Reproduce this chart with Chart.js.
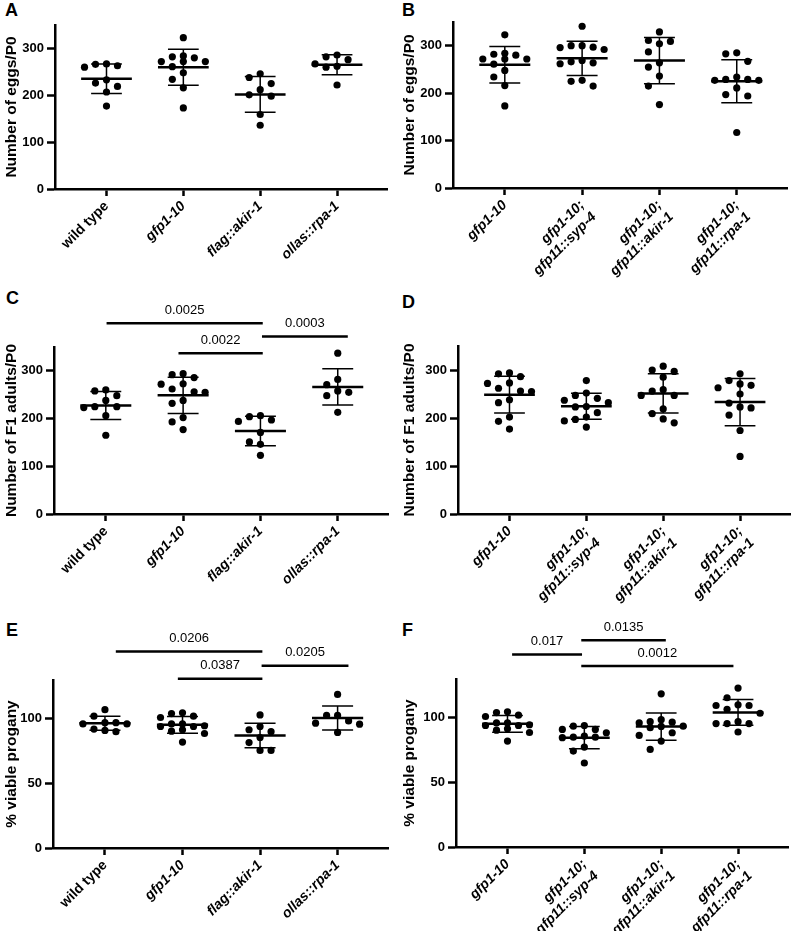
<!DOCTYPE html>
<html>
<head>
<meta charset="utf-8">
<script src="https://cdn.jsdelivr.net/npm/chart.js@4.4.0/dist/chart.umd.min.js"></script>
<style>
  body { margin: 0; background: #fff; width: 796px; height: 931px; position: relative; overflow: hidden; }
  canvas { position: absolute; }
  .tag { position: absolute; font: bold 18px "Liberation Sans", Arial, sans-serif; line-height: 18px; color: #000; }
</style>
</head>
<body>
<div class="tag" style="left:5px;top:1px">A</div>
<div class="tag" style="left:402px;top:1px">B</div>
<div class="tag" style="left:6px;top:289px">C</div>
<div class="tag" style="left:402px;top:293px">D</div>
<div class="tag" style="left:6px;top:621px">E</div>
<div class="tag" style="left:402px;top:621px">F</div>
<script>
const FONT = '"Liberation Sans", Arial, sans-serif';

// x categories
const strainsLeft = ['wild type', 'gfp1-10', 'flag::akir-1', 'ollas::rpa-1'];
const strainsRight = ['gfp1-10', ['gfp1-10;', 'gfp11::syp-4'], ['gfp1-10;', 'gfp11::akir-1'], ['gfp1-10;', 'gfp11::rpa-1']];

// number of eggs / P0
const eggsWT = [267, 266, 263, 260, 233, 226, 219, 207, 177];
const eggsGfp = [323, 272, 282, 284, 272, 272, 280, 261, 248, 234, 216, 173];
const eggsFlagAkir = [246, 238, 225, 212, 198, 201, 159, 136];
const eggsOllasRpa = [282, 286, 276, 262, 267, 260, 222];
const eggsSyp4 = [341, 300, 296, 297, 292, 300, 266, 262, 269, 264, 215, 227, 225];
const eggsGfpAkir = [329, 311, 309, 304, 287, 264, 255, 236, 215, 176];
const eggsGfpRpa = [283, 285, 267, 229, 227, 227, 229, 234, 211, 194, 197, 117];

// number of F1 adults / P0
const adultsWT = [248, 258, 260, 238, 223, 225, 225, 206, 165];
const adultsGfp = [294, 292, 286, 272, 273, 262, 255, 256, 232, 238, 193, 202, 177];
const adultsFlagAkir = [206, 204, 194, 197, 171, 146, 151, 123];
const adultsOllasRpa = [337, 282, 271, 258, 248, 255, 213];
const adultsSyp4 = [278, 252, 247, 232, 241, 237, 224, 223, 211, 202, 197, 194, 181];
const adultsGfpAkir = [308, 300, 297, 285, 247, 256, 259, 247, 219, 209, 190, 198];
const adultsGfpRpa = [292, 278, 268, 271, 263, 250, 231, 221, 223, 206, 174, 120];

// % viable progeny
const viableWT = [107, 102, 97, 96, 96, 97, 91, 92, 90];
const viableGfp = [104, 104.6, 101, 102, 94, 94.6, 96, 96, 94, 91.5, 90.4, 88.6, 82];
const viableFlagAkir = [103, 91.5, 94, 90, 85.5, 81.6, 75.5, 75.5];
const viableOllasRpa = [118.8, 102.6, 102.6, 98.3, 95.8, 96.6, 89.4];
const viableSyp4 = [91, 91, 94, 93.5, 88.4, 85, 85, 85.8, 84.6, 77.3, 74.2, 65];
const viableGfpAkir = [118.5, 97, 93.5, 93.3, 98.5, 96, 96.6, 92.3, 88.4, 86.3, 82, 75.5];
const viableGfpRpa = [123, 115.5, 109.5, 106.5, 109.5, 110, 103.5, 95.5, 97, 95.5, 95.5, 89];

// p-value comparisons: span (category units), label, bar height (y units)
const compCSpans = [[0.01, 2.03], [0.94, 2.03], [2.02, 3.13]];
const compCLabels = ['0.0025', '0.0022', '0.0003'];
const compCLevels = [400, 337, 372];
const compESpans = [[0.14, 2.03], [0.94, 2.03], [2.02, 3.14]];
const compELabels = ['0.0206', '0.0387', '0.0205'];
const compELevels = [152, 131, 141];
const compFSpans = [[0.06, 0.97], [0.96, 2.06], [0.96, 2.94]];
const compFLabels = ['0.017', '0.0135', '0.0012'];
const compFLevels = [149, 160, 140];

const xMin = -0.67, xMax = 3.65;

function meanSd(v) {
  const m = v.reduce((a, b) => a + b, 0) / v.length;
  const sd = Math.sqrt(v.reduce((a, b) => a + (b - m) ** 2, 0) / (v.length - 1));
  return [m, sd];
}

// beeswarm limited to 5 slots; when all are taken pick the least crowded one
function swarm(values, center, pxX, pxY) {
  const step = 11, minDist = 10;
  const slots = [0, -1, 1, -2, 2].map(k => k * step);
  const order = values.map((v, i) => i).sort((a, b) => values[b] - values[a]);
  const placed = [];
  const out = [];
  for (const i of order) {
    const yp = values[i] * pxY;
    let best = 0, bestGap = -1;
    for (const cand of slots) {
      const gap = placed.length ? Math.min(...placed.map(p => Math.hypot(p.xp - cand, p.yp - yp))) : Infinity;
      if (gap >= minDist) { best = cand; bestGap = gap; break; }
      if (gap > bestGap) { best = cand; bestGap = gap; }
    }
    placed.push({ xp: best, yp });
    out.push({ x: center + best / pxX, y: values[i] });
  }
  return out;
}

const sigPlugin = {
  id: 'sig',
  afterDraw(chart, args, opts) {
    if (!opts.spans) return;
    const { ctx } = chart;
    const x = chart.scales.x, y = chart.scales.y;
    ctx.save();
    ctx.strokeStyle = '#000';
    ctx.fillStyle = '#000';
    ctx.lineWidth = 2.5;
    ctx.font = '13px ' + FONT;
    ctx.textAlign = 'center';
    ctx.textBaseline = 'middle';
    opts.spans.forEach((s, i) => {
      const x1 = x.getPixelForValue(s[0]), x2 = x.getPixelForValue(s[1]);
      const yy = y.getPixelForValue(opts.levels[i]);
      ctx.beginPath();
      ctx.moveTo(x1, yy);
      ctx.lineTo(x2, yy);
      ctx.stroke();
      ctx.fillText(opts.labels[i], (x1 + x2) / 2, yy - 13);
    });
    ctx.restore();
  }
};

function panel(box, area, labels, groups, yTitle, yMax, yStep, comps) {
  const cv = document.createElement('canvas');
  cv.width = box.w; cv.height = box.h;
  cv.style.left = box.l + 'px';
  cv.style.top = box.t + 'px';
  document.body.appendChild(cv);

  const pxX = (area.r - area.l) / (xMax - xMin);
  const pxY = (area.b - area.t) / yMax;
  const pts = [], means = [], sds = [];
  groups.forEach((g, i) => {
    pts.push(...swarm(g, i, pxX, pxY));
    const [m, sd] = meanSd(g);
    means.push({ x: i - 0.33, y: m }, { x: i + 0.33, y: m }, { x: i, y: null });
    sds.push({ x: i, y: m - sd }, { x: i, y: m + sd }, { x: i, y: null },
      { x: i - 0.2, y: m + sd }, { x: i + 0.2, y: m + sd }, { x: i, y: null },
      { x: i - 0.2, y: m - sd }, { x: i + 0.2, y: m - sd }, { x: i, y: null });
  });

  new Chart(cv, {
    type: 'scatter',
    data: {
      datasets: [
        { data: pts, pointRadius: 3.6, pointBackgroundColor: '#000', pointBorderWidth: 0, showLine: false, clip: false },
        { data: means, showLine: true, borderColor: '#000', borderWidth: 2.5, pointRadius: 0, clip: false },
        { data: sds, showLine: true, borderColor: '#000', borderWidth: 1.5, pointRadius: 0, clip: false }
      ]
    },
    options: {
      responsive: false,
      animation: false,
      devicePixelRatio: 1,
      layout: { padding: { left: 0, top: area.t - box.t, right: box.l + box.w - area.r, bottom: 0 } },
      plugins: { legend: { display: false }, tooltip: { enabled: false }, sig: comps || {} },
      scales: {
        x: {
          type: 'linear', min: xMin, max: xMax,
          afterBuildTicks: s => { s.ticks = labels.map((_, i) => ({ value: i })); },
          afterFit: s => { s.height = box.t + box.h - area.b; },
          grid: { drawOnChartArea: false, drawTicks: true, tickLength: 7, tickWidth: 2.5, tickColor: '#000' },
          border: { display: true, width: 2.5, color: '#000' },
          ticks: {
            autoSkip: false, minRotation: 45, maxRotation: 45, padding: 2, color: '#000',
            callback: v => labels[v],
            font: c => ({ family: FONT, size: 14, weight: 'bold',
              style: (c.tick && labels[c.tick.value] === 'wild type') ? 'normal' : 'italic' })
          }
        },
        y: {
          min: 0, max: yMax,
          afterBuildTicks: s => { s.ticks = s.ticks.filter(t => t.value % yStep === 0); },
          afterFit: s => { s.width = area.l - box.l; },
          grid: { drawOnChartArea: false, drawTicks: true, tickLength: 8, tickWidth: 2.5, tickColor: '#000' },
          border: { display: true, width: 2.5, color: '#000' },
          ticks: { stepSize: yStep, color: '#000', padding: 3, font: { family: FONT, size: 13, weight: 'bold' } },
          title: { display: true, text: yTitle, color: '#000', padding: { top: 2, bottom: 0 },
            font: { family: FONT, size: 15.5, weight: 'bold' } }
        }
      }
    },
    plugins: [sigPlugin]
  });
}

panel({ l: 0, t: 0, w: 398, h: 290 }, { l: 55, t: 25, r: 387, b: 189 }, strainsLeft,
  [eggsWT, eggsGfp, eggsFlagAkir, eggsOllasRpa], 'Number of eggs/P0', 350, 100);
panel({ l: 398, t: 0, w: 398, h: 290 }, { l: 453, t: 22, r: 787, b: 188 }, strainsRight,
  [eggsGfp, eggsSyp4, eggsGfpAkir, eggsGfpRpa], 'Number of eggs/P0', 350, 100);
panel({ l: 0, t: 290, w: 398, h: 310 }, { l: 54, t: 347, r: 388, b: 514 }, strainsLeft,
  [adultsWT, adultsGfp, adultsFlagAkir, adultsOllasRpa], 'Number of F1 adults/P0', 350, 100,
  { spans: compCSpans, labels: compCLabels, levels: compCLevels });
panel({ l: 398, t: 290, w: 398, h: 320 }, { l: 458, t: 346, r: 790, b: 514 }, strainsRight,
  [adultsGfp, adultsSyp4, adultsGfpAkir, adultsGfpRpa], 'Number of F1 adults/P0', 350, 100);
panel({ l: 0, t: 600, w: 398, h: 331 }, { l: 53, t: 680, r: 388, b: 848 }, strainsLeft,
  [viableWT, viableGfp, viableFlagAkir, viableOllasRpa], '% viable progany', 130, 50,
  { spans: compESpans, labels: compELabels, levels: compELevels });
panel({ l: 398, t: 600, w: 398, h: 331 }, { l: 456, t: 679, r: 788, b: 847 }, strainsRight,
  [viableGfp, viableSyp4, viableGfpAkir, viableGfpRpa], '% viable progany', 130, 50,
  { spans: compFSpans, labels: compFLabels, levels: compFLevels });
</script>
</body>
</html>
